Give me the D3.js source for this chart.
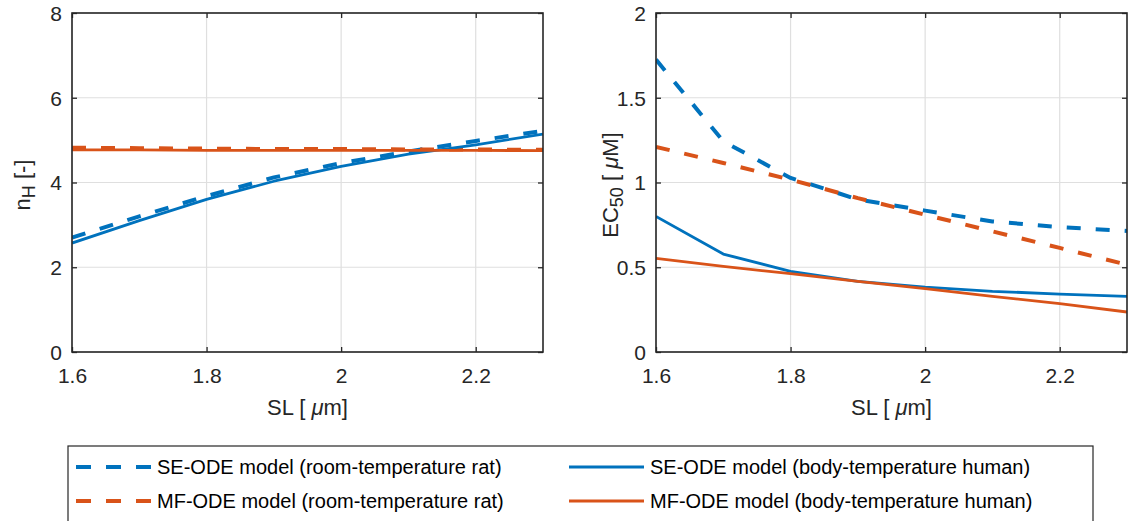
<!DOCTYPE html>
<html><head><meta charset="utf-8">
<script src="https://cdn.jsdelivr.net/npm/d3@7"></script>
<style>
html,body{margin:0;padding:0;background:#fff;}
svg{display:block;font-family:"Liberation Sans",Arial,Helvetica,sans-serif;}
</style></head>
<body>
<svg id="chart" width="1134" height="521"></svg>
<script>
// ---- data ----
const sl = [1.6, 1.7, 1.8, 1.9, 2.0, 2.1, 2.2, 2.3];
// Hill coefficient nH [-]
const nhSERat   = [2.70, 3.20, 3.68, 4.12, 4.46, 4.73, 4.98, 5.22];
const nhMFRat   = [4.82, 4.81, 4.80, 4.79, 4.79, 4.78, 4.78, 4.77];
const nhSEHuman = [2.57, 3.10, 3.60, 4.03, 4.38, 4.67, 4.89, 5.14];
const nhMFHuman = [4.77, 4.77, 4.76, 4.76, 4.76, 4.76, 4.76, 4.75];
// EC50 [uM]
const ecSERat   = [1.725, 1.243, 1.027, 0.900, 0.834, 0.770, 0.737, 0.714];
const ecMFRat   = [1.210, 1.115, 1.017, 0.908, 0.810, 0.712, 0.614, 0.515];
const ecSEHuman = [0.800, 0.578, 0.476, 0.417, 0.383, 0.358, 0.342, 0.328];
const ecMFHuman = [0.553, 0.505, 0.462, 0.417, 0.374, 0.328, 0.285, 0.236];
// ticks
const xTicks = [1.6, 1.8, 2.0, 2.2];
const xTickLabels = ["1.6", "1.8", "2", "2.2"];
const nhTicks = [0, 2, 4, 6, 8];
const nhTickLabels = ["0", "2", "4", "6", "8"];
const ecTicks = [0, 0.5, 1, 1.5, 2];
const ecTickLabels = ["0", "0.5", "1", "1.5", "2"];
const legendLabels = [
  "SE-ODE model (room-temperature rat)",
  "MF-ODE model (room-temperature rat)",
  "SE-ODE model (body-temperature human)",
  "MF-ODE model (body-temperature human)"
];

// ---- styles ----
const BLUE = "#0072BD", ORANGE = "#D95319";
const AX = "#262626", GRID = "#dfdfdf";
const DASH = "14,15";
const series = [
  {key:"SERat", color:BLUE, dash:true},
  {key:"MFRat", color:ORANGE, dash:true},
  {key:"SEHuman", color:BLUE, dash:false},
  {key:"MFHuman", color:ORANGE, dash:false}
];
const svg = d3.select("#chart");

function panel(opts) {
  const {x0, x1, y0, y1, yDomain, yTicks, yTickLabels, data, id} = opts;
  const x = d3.scaleLinear().domain([1.6, 2.3]).range([x0, x1]);
  const y = d3.scaleLinear().domain(yDomain).range([y1, y0]);
  const g = svg.append("g");
  // grid
  g.selectAll(".gx").data(xTicks).enter().append("line")
    .attr("x1", d => x(d)).attr("x2", d => x(d)).attr("y1", y0).attr("y2", y1)
    .attr("stroke", GRID).attr("stroke-width", 1.2);
  g.selectAll(".gy").data(yTicks).enter().append("line")
    .attr("x1", x0).attr("x2", x1).attr("y1", d => y(d)).attr("y2", d => y(d))
    .attr("stroke", GRID).attr("stroke-width", 1.2);
  // clip
  svg.append("clipPath").attr("id", id).append("rect")
    .attr("x", x0).attr("y", y0).attr("width", x1 - x0).attr("height", y1 - y0);
  const line = d3.line().x((d, i) => x(sl[i])).y(d => y(d));
  const lg = g.append("g").attr("clip-path", `url(#${id})`);
  series.forEach(s => {
    lg.append("path").datum(data[s.key])
      .attr("d", line).attr("fill", "none")
      .attr("stroke", s.color)
      .attr("stroke-width", s.dash ? 4 : 2.8)
      .attr("stroke-dasharray", s.dash ? DASH : null)
      .attr("stroke-linejoin", "round");
  });
  // axes (ticks inside, box)
  const tl = 5;
  const axB = g.append("g").attr("transform", `translate(0,${y1})`)
    .call(d3.axisBottom(x).tickValues(xTicks).tickSize(-tl).tickPadding(16)
      .tickFormat((d, i) => xTickLabels[i]));
  const axT = g.append("g").attr("transform", `translate(0,${y0})`)
    .call(d3.axisTop(x).tickValues(xTicks).tickSize(-tl).tickFormat(""));
  const axL = g.append("g").attr("transform", `translate(${x0},0)`)
    .call(d3.axisLeft(y).tickValues(yTicks).tickSize(-tl).tickPadding(10)
      .tickFormat((d, i) => yTickLabels[i]));
  const axR = g.append("g").attr("transform", `translate(${x1},0)`)
    .call(d3.axisRight(y).tickValues(yTicks).tickSize(-tl).tickFormat(""));
  [axB, axT, axL, axR].forEach(a => {
    a.select(".domain").remove();
    a.selectAll("line").attr("stroke", AX).attr("stroke-width", 1.3);
    a.selectAll("text").attr("fill", AX).style("font-size", "21px")
      .style("font-family", "'Liberation Sans', Arial, sans-serif");
  });
  axB.selectAll("text").attr("dy", "0.71em");
  axL.selectAll("text").attr("dy", "0.35em");
  g.append("rect").attr("x", x0).attr("y", y0).attr("width", x1 - x0).attr("height", y1 - y0)
    .attr("fill", "none").attr("stroke", AX).attr("stroke-width", 1.6);
  // x label
  const xl = g.append("text").attr("x", (x0 + x1) / 2).attr("y", 415)
    .attr("text-anchor", "middle").attr("fill", AX).style("font-size", "22px");
  xl.append("tspan").text("SL [ ");
  xl.append("tspan").text("μ").style("font-style", "italic");
  xl.append("tspan").text("m]");
  return {x, y, g};
}

const p1 = panel({x0:72, x1:543, y0:13, y1:352, yDomain:[0, 8], yTicks:nhTicks,
  yTickLabels:nhTickLabels, id:"clipA",
  data:{SERat:nhSERat, MFRat:nhMFRat, SEHuman:nhSEHuman, MFHuman:nhMFHuman}});
const p2 = panel({x0:656, x1:1127, y0:13, y1:352, yDomain:[0, 2], yTicks:ecTicks,
  yTickLabels:ecTickLabels, id:"clipB",
  data:{SERat:ecSERat, MFRat:ecMFRat, SEHuman:ecSEHuman, MFHuman:ecMFHuman}});

// y labels
const yl1 = svg.append("text").attr("transform", "translate(30,185) rotate(-90)")
  .attr("text-anchor", "middle").attr("fill", AX).style("font-size", "22px");
yl1.append("tspan").text("n");
yl1.append("tspan").text("H").attr("dy", 5).style("font-size", "18px");
yl1.append("tspan").text(" [-]").attr("dy", -5);

const yl2 = svg.append("text").attr("transform", "translate(618,185) rotate(-90)")
  .attr("text-anchor", "middle").attr("fill", AX).style("font-size", "22px");
yl2.append("tspan").text("EC");
yl2.append("tspan").text("50").attr("dy", 5).style("font-size", "18px");
yl2.append("tspan").text("  [ ").attr("dy", -5);
yl2.append("tspan").text("μ").style("font-style", "italic");
yl2.append("tspan").text("M]");

// legend
const leg = svg.append("g");
leg.append("rect").attr("x", 68).attr("y", 446).attr("width", 1093 - 68).attr("height", 100)
  .attr("fill", "#fff").attr("stroke", AX).attr("stroke-width", 1.2);
const legItems = [
  {s:series[0], col:0, row:0, label:legendLabels[0]},
  {s:series[1], col:0, row:1, label:legendLabels[1]},
  {s:series[2], col:1, row:0, label:legendLabels[2]},
  {s:series[3], col:1, row:1, label:legendLabels[3]}
];
const colX = [76, 569], rowY = [467, 501];
legItems.forEach(it => {
  const lx = colX[it.col], ly = rowY[it.row];
  leg.append("line").attr("x1", lx).attr("x2", lx + 75).attr("y1", ly).attr("y2", ly)
    .attr("stroke", it.s.color).attr("stroke-width", it.s.dash ? 4 : 2.8)
    .attr("stroke-dasharray", it.s.dash ? "15,15" : null);
  leg.append("text").attr("x", lx + 81).attr("y", ly).attr("dy", "0.35em")
    .attr("fill", "#000").style("font-size", "20px").text(it.label);
});
</script>
</body></html>
